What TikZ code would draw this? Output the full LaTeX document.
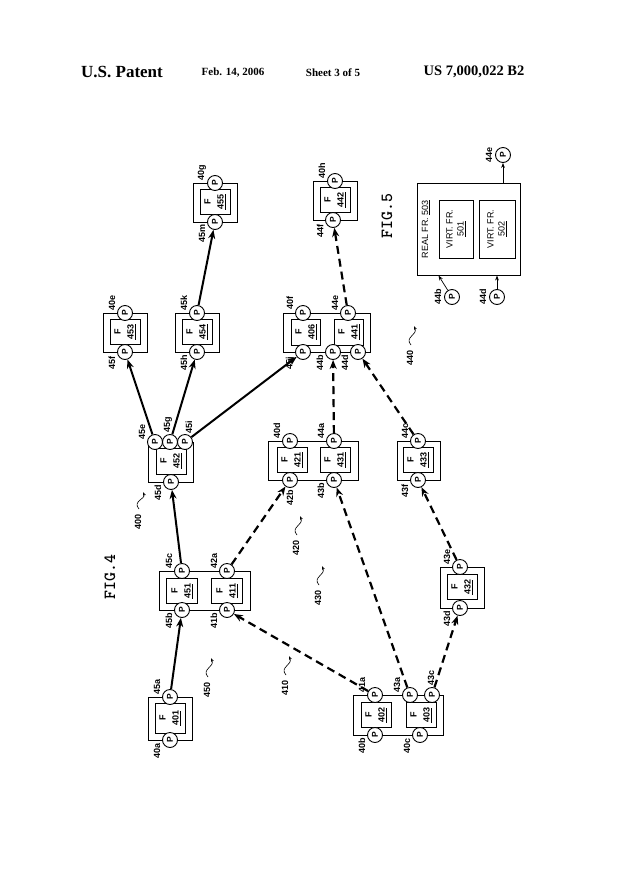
\documentclass[tikz,border=0pt]{standalone}
\usepackage{fontspec}
\setmainfont{Liberation Serif}
\newfontfamily\lab{Liberation Sans}
\usetikzlibrary{arrows.meta}
\begin{document}
\begin{tikzpicture}[x=1pt,y=-1pt,
 pc/.style={circle,draw,line width=0.9pt,fill=white,inner sep=0pt,minimum size=15pt,font=\lab\bfseries\fontsize{8.5}{8.5}\selectfont,rotate=90},
 lb/.style={font=\lab\bfseries\fontsize{9}{9}\selectfont,rotate=90,inner sep=0pt},
 fr/.style={draw,line width=1pt},
 inn/.style={draw,line width=1pt,font=\lab\bfseries\fontsize{9}{10}\selectfont,align=center},
 sol/.style={line width=2pt,-{Stealth[length=9pt,width=7pt]}},
 dsh/.style={line width=2.2pt,dash pattern=on 8pt off 5pt,-{Stealth[length=9pt,width=7pt]}}]
\useasboundingbox (0,0) rectangle (625,884);
% header
\node[font=\bfseries\fontsize{17}{17}\selectfont] at (122,72) {U.S. Patent};
\node[font=\bfseries\fontsize{11}{11}\selectfont] at (233,73) {Feb. 14, 2006};
\node[font=\bfseries\fontsize{11}{11}\selectfont] at (333,73) {Sheet 3 of 5};
\node[font=\bfseries\fontsize{14.5}{14.5}\selectfont] at (474,72) {US 7,000,022 B2};
\node[rotate=90,font=\ttfamily\bfseries\fontsize{17}{17}\selectfont] at (110,577) {FIG.4};
\node[rotate=90,font=\ttfamily\bfseries\fontsize{17}{17}\selectfont] at (387,216) {FIG.5};
% macros
\newcommand\fram[4]{\draw[fr] (#1,#2) rectangle (#3,#4);}
\newcommand\inbox[6]{\node[inn,minimum width=#3pt,minimum height=#4pt] (#1) at (#2) {\rotatebox{90}{\begin{tabular}{@{}c@{}}F\\[3pt]\underline{#5}\end{tabular}}};}
\newcommand\pp[5]{\node[pc] (p#1) at (#2,#3) {P}; \node[lb] at (#2+#4,#3+#5) {#1};}
% 401
\fram{148}{697}{192}{740}\inbox{f401}{170,718}{30}{30}{401}{}
\pp{45a}{170}{697}{-13}{-10}\pp{40a}{170}{740}{-13}{11}
% 451/411
\fram{159}{571}{250}{610}\inbox{f451}{182,591}{31}{25}{451}{}\inbox{f411}{227,591}{31}{25}{411}{}
\pp{45c}{182}{571}{-13}{-10}\pp{45b}{182}{610}{-13}{11}\pp{42a}{227}{571}{-13}{-10}\pp{41b}{227}{610}{-13}{11}
% 452
\fram{148}{442}{193}{482}\inbox{f452}{171,461}{30}{26}{452}{}
\pp{45e}{155}{442}{-13}{-10}\pp{45g}{170}{442}{-2}{-17}\pp{45i}{185}{442}{4}{-15}\pp{45d}{171}{482}{-13}{11}
% 421/431
\fram{268}{441}{358}{480}\inbox{f421}{292,460}{30}{25}{421}{}\inbox{f431}{335,460}{30}{25}{431}{}
\pp{40d}{290}{441}{-13}{-10}\pp{44a}{334}{441}{-13}{-10}\pp{42b}{290}{480}{0}{18}\pp{43b}{334}{480}{-13}{11}
% 453
\fram{103}{313}{147}{352}\inbox{f453}{125,332}{30}{25}{453}{}
\pp{40e}{125}{313}{-13}{-10}\pp{45f}{125}{352}{-13}{11}
% 454
\fram{175}{313}{219}{352}\inbox{f454}{197,332}{30}{25}{454}{}
\pp{45k}{197}{313}{-13}{-10}\pp{45h}{197}{352}{-13}{11}
% 455
\fram{193}{183}{237}{222}\inbox{f455}{215,202}{30}{25}{455}{}
\pp{40g}{215}{183}{-13}{-10}\pp{45m}{215}{222}{-13}{11}
% 406/441
\fram{283}{313}{370}{352}\inbox{f406}{306,332}{28}{26}{406}{}\inbox{f441}{349,332}{28}{26}{441}{}
\pp{40f}{303}{313}{-13}{-10}\pp{44e}{348}{313}{-13}{-10}\pp{45j}{303}{352}{-13}{11}\pp{44b}{333}{352}{-13}{11}\pp{44d}{358}{352}{-13}{11}
% 442
\fram{313}{181}{357}{220}\inbox{f442}{335,200}{30}{25}{442}{}
\pp{40h}{335}{181}{-13}{-10}\pp{44f}{333}{220}{-13}{11}
% 433
\fram{397}{441}{440}{480}\inbox{f433}{418,460}{30}{25}{433}{}
\pp{44c}{418}{441}{-13}{-10}\pp{43f}{418}{480}{-13}{11}
% 432
\fram{440}{567}{484}{608}\inbox{f432}{462,587}{30}{25}{432}{}
\pp{43e}{460}{567}{-13}{-10}\pp{43d}{460}{608}{-13}{11}
% 402/403
\fram{353}{695}{443}{735}\inbox{f402}{376,715}{30}{25}{402}{}\inbox{f403}{421,715}{30}{25}{403}{}
\pp{41a}{375}{695}{-13}{-10}\pp{43a}{410}{695}{-13}{-10}\pp{43c}{432}{695}{-1}{-17}\pp{40b}{375}{735}{-13}{11}\pp{40c}{420}{735}{-13}{11}
% connectors
\draw[sol] (p45a) -- (p45b);
\draw[sol] (p45c) -- (p45d);
\draw[sol] (p45e) -- (p45f);
\draw[sol] (p45g) -- (p45h);
\draw[sol] (p45k) -- (p45m);
\draw[sol] (p45i) -- (p45j);
\draw[dsh] (p41a) -- (p41b);
\draw[dsh] (p42a) -- (p42b);
\draw[dsh] (p43a) -- (p43b);
\draw[dsh] (p43c) -- (p43d);
\draw[dsh] (p43e) -- (p43f);
\draw[dsh] (p44a) -- (p44b);
\draw[dsh] (p44c) -- (p44d);
\draw[dsh] (p44e) -- (p44f);
% reference numerals with squiggles
\newcommand\refn[5]{\node[lb] (#1) at (#2,#3) {#1}; \draw[line width=0.6pt,-{Stealth[length=4pt,open]}] (#2+1,#3-13) .. controls (#2-6,#3-21) and (#2+8,#3-23) .. (#2+#4,#3+#5);}
\refn{400}{138}{522}{5}{-30}
\refn{410}{285}{688}{4}{-32}
\refn{420}{296}{548}{4}{-32}
\refn{430}{318}{598}{4}{-32}
\refn{440}{410}{358}{4}{-32}
\refn{450}{207}{690}{4}{-32}
% FIG 5
\node[fr,minimum width=103pt,minimum height=92pt] (real) at (468.5,229) {};
\node[lb,font=\lab\fontsize{9}{9}\selectfont] at (426,229) {REAL FR. \underline{503}};
\node[inn,font=\lab\fontsize{9}{11}\selectfont,minimum width=34pt,minimum height=58pt] (v1) at (456,229) {\rotatebox{90}{\begin{tabular}{@{}c@{}}VIRT. FR.\\\underline{501}\end{tabular}}};
\node[inn,font=\lab\fontsize{9}{11}\selectfont,minimum width=36pt,minimum height=58pt] (v2) at (497,229) {\rotatebox{90}{\begin{tabular}{@{}c@{}}VIRT. FR.\\\underline{502}\end{tabular}}};
\node[pc] (q44e) at (503,155) {P}; \node[lb] at (489,155) {44e};
\node[pc] (q44b) at (452,297) {P}; \node[lb] at (438,297) {44b};
\node[pc] (q44d) at (497,297) {P}; \node[lb] at (483,297) {44d};
\coordinate (rt) at (503,183);
\draw[line width=0.7pt,-{Stealth[length=5pt]}] (rt) -- (q44e);
\draw[line width=0.7pt,-{Stealth[length=5pt]}] (q44b) -- (v1.west |- real.south);
\draw[line width=0.7pt,-{Stealth[length=5pt]}] (q44d) -- (v2.center |- real.south);
\end{tikzpicture}
\end{document}
